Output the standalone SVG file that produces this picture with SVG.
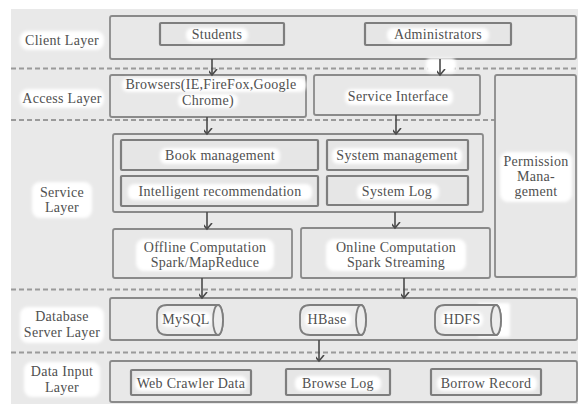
<svg xmlns="http://www.w3.org/2000/svg" width="578" height="407" viewBox="0 0 578 407" font-family="'Liberation Serif', 'DejaVu Serif', serif">
<defs>
<style>
.t{font-size:14px;letter-spacing:0.3px;fill:#505050;text-anchor:middle}
.box{fill:#e8e8e8;stroke:#8a8a8a;stroke-width:1.8}
.inner{fill:#e6e6e6;stroke:#7e7e7e;stroke-width:2.2}
.dash{stroke:#9a9a9a;stroke-width:2;stroke-dasharray:5 3;fill:none}
.halo{fill:#ffffff;filter:url(#blur)}
.arr{stroke:#4a4a4a;stroke-width:1.6;fill:none;marker-end:url(#ah)}
.cyl{fill:#ececec;stroke:#7e7e7e;stroke-width:1.8}
</style>
<filter id="blur" x="-20%" y="-50%" width="140%" height="200%"><feGaussianBlur stdDeviation="1.8"/></filter>
<marker id="ah" markerUnits="userSpaceOnUse" markerWidth="12" markerHeight="10" refX="6" refY="7" orient="auto" viewBox="0 0 12 10">
<path d="M1,1 L6,7 L11,1" transform="rotate(-90 6 7)" fill="none" stroke="#4a4a4a" stroke-width="1.6"/>
</marker>
</defs>
<rect x="11" y="9" width="567" height="395" fill="#e9e9e9"/>
<g id="dividers">
<line class="dash" x1="11" y1="68.5" x2="578" y2="68.5"/>
<line class="dash" x1="11" y1="120" x2="495" y2="120"/>
<line class="dash" x1="11" y1="289.5" x2="578" y2="289.5"/>
<line class="dash" x1="11" y1="352.5" x2="578" y2="352.5"/>
</g>
<g id="layer-labels">
<rect class="halo" x="20" y="31" width="84" height="19" rx="8"/>
<text class="t" x="62" y="45">Client Layer</text>
<rect class="halo" x="20" y="89" width="84" height="19" rx="8"/>
<text class="t" x="62" y="103">Access Layer</text>
<rect class="halo" x="32" y="182" width="60" height="36" rx="8"/>
<text class="t" x="62" y="197">Service</text>
<text class="t" x="62" y="212">Layer</text>
<rect class="halo" x="20" y="307" width="84" height="36" rx="8"/>
<text class="t" x="62" y="321">Database</text>
<text class="t" x="62" y="337">Server Layer</text>
<rect class="halo" x="24" y="362" width="76" height="35" rx="8"/>
<text class="t" x="62" y="376">Data Input</text>
<text class="t" x="62" y="392">Layer</text>
</g>
<g id="client-layer">
<rect class="box" x="110" y="16" width="466" height="43" rx="2"/>
</g>
<g id="students">
<rect class="inner" x="160" y="23" width="124" height="22" rx="1"/>
<rect class="halo" x="186" y="28" width="62" height="14" rx="6"/>
<text class="t" x="217" y="39">Students</text>
</g>
<g id="administrators">
<rect class="inner" x="365" y="23" width="146" height="22" rx="1"/>
<rect class="halo" x="387" y="28" width="102" height="14" rx="6"/>
<text class="t" x="438" y="39">Administrators</text>
</g>
<g id="browser">
<rect class="box" x="110" y="75" width="196" height="42" rx="2"/>
<rect class="halo" x="122" y="78" width="184" height="14" rx="6"/>
<rect class="halo" x="178" y="94" width="60" height="14" rx="6"/>
<text class="t" x="211" y="89">Browsers(IE,FireFox,Google</text>
<text class="t" x="208" y="105">Chrome)</text>
</g>
<g id="service-interface">
<rect class="box" x="314" y="75" width="166" height="40" rx="2"/>
<rect class="halo" x="345" y="89" width="108" height="16" rx="6"/>
<text class="t" x="398" y="101">Service Interface</text>
</g>
<g id="permission">
<rect class="box" x="495" y="75" width="81" height="202" rx="2"/>
<rect class="halo" x="500" y="152" width="72" height="50" rx="8"/>
<text class="t" x="536" y="166">Permission</text>
<text class="t" x="536" y="181">Mana-</text>
<text class="t" x="536" y="196">gement</text>
</g>
<g id="service-core">
<rect class="box" x="113" y="134" width="370" height="78" rx="2"/>
</g>
<g id="book-management">
<rect class="inner" x="121" y="140" width="197" height="30" rx="1"/>
<rect class="halo" x="160" y="148" width="120" height="16" rx="6"/>
<text class="t" x="220" y="160">Book management</text>
</g>
<g id="intelligent-recommendation">
<rect class="inner" x="121" y="176" width="197" height="30" rx="1"/>
<rect class="halo" x="128" y="184" width="184" height="16" rx="6"/>
<text class="t" x="220" y="196">Intelligent recommendation</text>
</g>
<g id="system-management">
<rect class="inner" x="327" y="140" width="141" height="30" rx="1"/>
<rect class="halo" x="332" y="148" width="130" height="16" rx="6"/>
<text class="t" x="397" y="160">System management</text>
</g>
<g id="system-log">
<rect class="inner" x="327" y="176" width="141" height="29" rx="1"/>
<rect class="halo" x="357" y="184" width="82" height="16" rx="6"/>
<text class="t" x="397" y="196">System Log</text>
</g>
<g id="offline">
<rect class="box" x="113" y="229" width="179" height="49" rx="2"/>
<rect class="halo" x="136" y="239" width="138" height="32" rx="8"/>
<text class="t" x="205" y="252">Offline Computation</text>
<text class="t" x="205" y="267">Spark/MapReduce</text>
</g>
<g id="online">
<rect class="box" x="301" y="228" width="189" height="50" rx="2"/>
<rect class="halo" x="326" y="239" width="140" height="32" rx="8"/>
<text class="t" x="396" y="252">Online Computation</text>
<text class="t" x="396" y="267">Spark Streaming</text>
</g>
<g id="database-layer">
<rect class="box" x="110" y="298" width="467" height="42" rx="2"/>
</g>
<g id="mysql">
<path class="cyl" d="M167,305 H218 A5,15 0 0 1 218,335 H167 Q157,335 157,325 V315 Q157,305 167,305 Z"/>
<ellipse class="cyl" cx="218" cy="320" rx="5" ry="15"/>
<rect class="halo" x="161" y="312" width="50" height="15" rx="6"/>
<text class="t" x="186" y="324">MySQL</text>
</g>
<g id="hbase">
<path class="cyl" d="M310,305 H361 A5,15 0 0 1 361,335 H310 Q300,335 300,325 V315 Q300,305 310,305 Z"/>
<ellipse class="cyl" cx="361" cy="320" rx="5" ry="15"/>
<rect class="halo" x="305" y="312" width="46" height="15" rx="6"/>
<text class="t" x="327" y="324">HBase</text>
</g>
<g id="hdfs">
<rect class="halo" x="478" y="303" width="32" height="34" rx="2"/>
<path class="cyl" d="M445,305 H496 A5,15 0 0 1 496,335 H445 Q435,335 435,325 V315 Q435,305 445,305 Z"/>
<ellipse class="cyl" cx="496" cy="320" rx="5" ry="15"/>
<rect class="halo" x="441" y="312" width="42" height="15" rx="6"/>
<text class="t" x="462" y="324">HDFS</text>
</g>
<g id="data-input-layer">
<rect class="box" x="110" y="361" width="467" height="41" rx="2"/>
</g>
<g id="web-crawler">
<rect class="inner" x="131" y="370" width="120" height="25" rx="1"/>
<rect class="halo" x="135" y="376" width="112" height="15" rx="6"/>
<text class="t" x="191" y="388">Web Crawler Data</text>
</g>
<g id="browse-log">
<rect class="inner" x="286" y="369" width="104" height="26" rx="1"/>
<rect class="halo" x="295" y="376" width="86" height="15" rx="6"/>
<text class="t" x="338" y="388">Browse Log</text>
</g>
<g id="borrow-record">
<rect class="inner" x="431" y="369" width="110" height="26" rx="1"/>
<rect class="halo" x="437" y="376" width="100" height="15" rx="6"/>
<text class="t" x="486" y="388">Borrow Record</text>
</g>
<g id="connectors">
<rect class="halo" x="426" y="58" width="30" height="15" rx="5"/>
<line class="arr" x1="212" y1="59" x2="212" y2="75"/>
<line class="arr" x1="440" y1="59" x2="440" y2="75"/>
<line class="arr" x1="207" y1="117" x2="207" y2="134"/>
<line class="arr" x1="396" y1="115" x2="396" y2="134"/>
<line class="arr" x1="207" y1="212" x2="207" y2="229"/>
<line class="arr" x1="395" y1="212" x2="395" y2="228"/>
<line class="arr" x1="202" y1="278" x2="202" y2="298"/>
<line class="arr" x1="404" y1="278" x2="404" y2="298"/>
<line class="arr" x1="319" y1="340" x2="319" y2="361"/>
</g>
</svg>
